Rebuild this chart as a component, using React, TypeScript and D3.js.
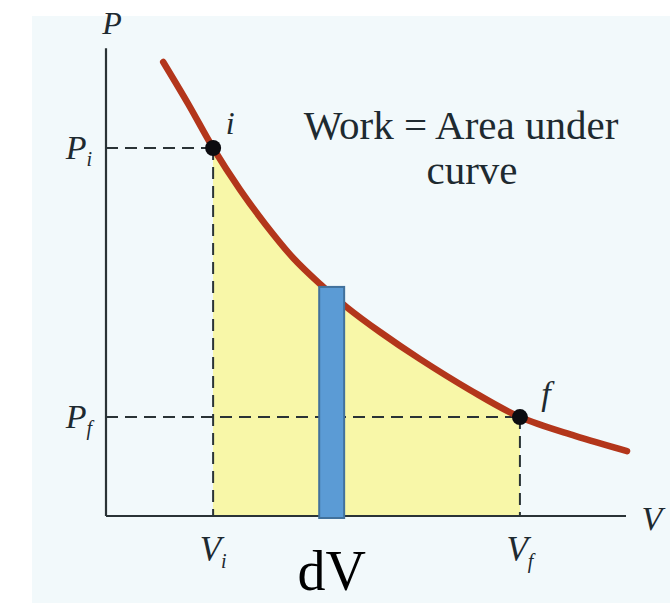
import React from "react";
import * as d3 from "d3";

// Data (V, P), in arbitrary units 0..10
const curveV = [1.1, 1.58, 2.06, 2.58, 3.06, 3.6, 4.12, 4.63, 5.27, 6.04, 7.0, 7.96, 9.02, 10.02];
const curveP = [9.87, 8.96, 8.0, 7.09, 6.35, 5.61, 5.04, 4.54, 4.0, 3.41, 2.74, 2.15, 1.74, 1.41];
const stateNames = ["i", "f"];
const stateV = [2.06, 7.96];
const stateP = [8.0, 2.15];
const dVStart = [4.1];
const dVEnd = [4.58];
const dVTop = [4.98];
const textLines = ["Work = Area under", "curve"];

const W = 670;
const H = 603;

export default function App() {
  const x = d3.scaleLinear().domain([0, 10]).range([106, 626]);
  const y = d3.scaleLinear().domain([0, 10]).range([516, 56]);
  const pts: [number, number][] = curveV.map((v, k) => [v, curveP[k]]);
  const line = d3
    .line<[number, number]>()
    .x((d) => x(d[0]))
    .y((d) => y(d[1]))
    .curve(d3.curveCatmullRom.alpha(0.5));
  const area = d3
    .area<[number, number]>()
    .x((d) => x(d[0]))
    .y0(y(0))
    .y1((d) => y(d[1]))
    .curve(d3.curveCatmullRom.alpha(0.5));
  const vi = stateV[0];
  const vf = stateV[1];
  const serif = "'Liberation Serif', 'DejaVu Serif', serif";
  const ink = "#1e2a30";

  return (
    <svg
      width={W}
      height={H}
      style={{ position: "absolute", left: 0, top: 0, background: "#ffffff" }}
    >
      <defs>
        <clipPath id="fillclip">
          <rect x={x(vi)} y={0} width={x(vf) - x(vi)} height={H} />
        </clipPath>
      </defs>
      <rect x={32} y={16} width={W - 32} height={H - 16} fill="#f2f9fb" />
      {/* area under curve */}
      <path d={area(pts) || ""} fill="#f8f7a8" clipPath="url(#fillclip)" />
      {/* axes */}
      <line x1={x(0)} y1={y(0)} x2={x(10)} y2={y(0)} stroke="#2a3336" strokeWidth={2.2} />
      <line x1={x(0)} y1={y(0)} x2={x(0)} y2={y(10.17)} stroke="#2a3336" strokeWidth={2.2} />
      {/* dashed guides */}
      {stateV.map((v, k) => (
        <g key={k}>
          <line
            x1={x(0)}
            y1={y(stateP[k])}
            x2={x(v)}
            y2={y(stateP[k])}
            stroke="#2a3336"
            strokeWidth={2}
            strokeDasharray="12 7"
          />
          <line
            x1={x(v)}
            y1={y(stateP[k])}
            x2={x(v)}
            y2={y(0)}
            stroke="#2a3336"
            strokeWidth={2}
            strokeDasharray="12 7"
          />
        </g>
      ))}
      {/* curve */}
      <path d={line(pts) || ""} fill="none" stroke="#b3361b" strokeWidth={6.5} strokeLinecap="round" />
      {/* points */}
      {stateV.map((v, k) => (
        <circle key={k} cx={x(v)} cy={y(stateP[k])} r={8} fill="#0c0c10" />
      ))}
      {/* dV bar */}
      <rect
        x={x(dVStart[0])}
        y={y(dVTop[0])}
        width={x(dVEnd[0]) - x(dVStart[0])}
        height={y(0) - y(dVTop[0]) + 2}
        fill="#5b9bd5"
        stroke="#41719c"
        strokeWidth={2}
      />
      {/* labels */}
      <g fontFamily={serif} fontStyle="italic" fill={ink}>
        <text x={x(0) + 6} y={34} fontSize={32} textAnchor="middle">P</text>
        <text x={x(0) - 14} y={y(stateP[0]) + 11} fontSize={34} textAnchor="end">
          P<tspan fontSize={20} dy={7}>i</tspan>
        </text>
        <text x={x(0) - 14} y={y(stateP[1]) + 11} fontSize={34} textAnchor="end">
          P<tspan fontSize={20} dy={7}>f</tspan>
        </text>
        <text x={652} y={y(0) + 14} fontSize={34} textAnchor="middle">V</text>
        <text x={x(vi)} y={y(0) + 45} fontSize={35} textAnchor="middle">
          V<tspan fontSize={20} dy={7}>i</tspan>
        </text>
        <text x={x(vf)} y={y(0) + 45} fontSize={35} textAnchor="middle">
          V<tspan fontSize={20} dy={7}>f</tspan>
        </text>
        <text x={x(vi) + 17} y={y(stateP[0]) - 14} fontSize={32} textAnchor="middle">{stateNames[0]}</text>
        <text x={x(vf) + 26} y={y(stateP[1]) - 12} fontSize={34} textAnchor="middle">{stateNames[1]}</text>
      </g>
      <g fontFamily={serif} fill={ink} fontSize={41}>
        <text x={461} y={139} textAnchor="middle">{textLines[0]}</text>
        <text x={472} y={184} textAnchor="middle">{textLines[1]}</text>
      </g>
      <text
        x={(x(dVStart[0]) + x(dVEnd[0])) / 2}
        y={590}
        fontFamily={serif}
        fontSize={56}
        textAnchor="middle"
        fill="#000"
      >
        dV
      </text>
    </svg>
  );
}
